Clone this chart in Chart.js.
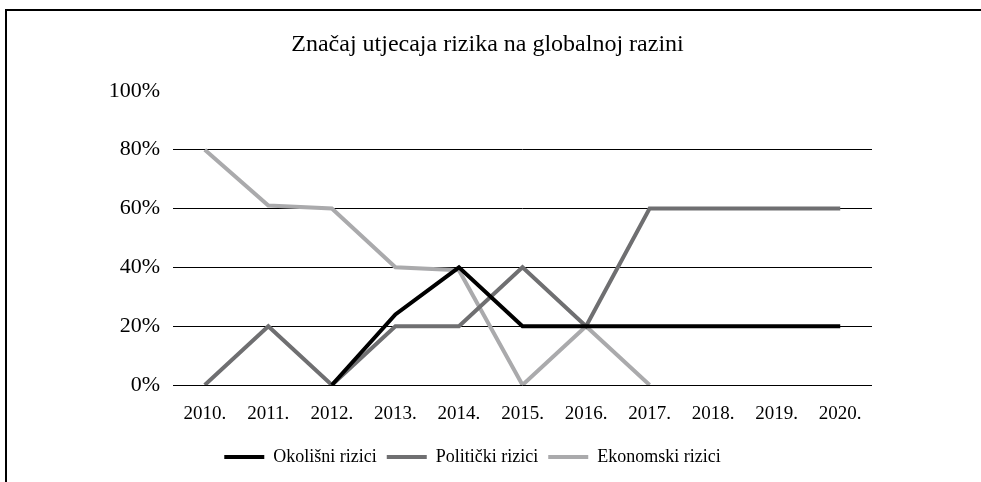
<!DOCTYPE html>
<html>
<head>
<meta charset="utf-8">
<script src="https://cdn.jsdelivr.net/npm/chart.js@4"></script>
<style>
  html, body { margin: 0; padding: 0; background: #fff; }
  #frame {
    position: absolute; left: 5px; top: 9px; right: 0; bottom: 0;
    border-left: 2px solid #000; border-top: 2px solid #000;
  }
  #wrap { position: relative; width: 974px; height: 471px; }
</style>
</head>
<body>
<div id="frame"><div id="wrap"><canvas id="riskChart"></canvas></div></div>
<script>
// podaci procitani s grafikona (u postocima)
const years = ['2010.', '2011.', '2012.', '2013.', '2014.', '2015.', '2016.', '2017.', '2018.', '2019.', '2020.'];
const okolisni = [null, null, 0, 24, 40, 20, 20, 20, 20, 20, 20];
const politicki = [0, 20, 0, 20, 20, 40, 20, 60, 60, 60, 60];
const ekonomski = [80, 61, 60, 40, 39, 0, 20, 0, null, null, null];
const yTicks = [0, 20, 40, 60, 80, 100];

const serif = 'Liberation Serif';

// pomak legende ulijevo kao na originalu
const shiftLegend = {
  id: 'shiftLegend',
  afterLayout(chart) {
    const l = chart.legend;
    if (l) { l.left -= 15; l.right -= 15; }
  }
};

new Chart(document.getElementById('riskChart').getContext('2d'), {
  type: 'line',
  data: {
    labels: years,
    datasets: [
      { label: 'Okolišni rizici', data: okolisni, borderColor: '#000000', backgroundColor: '#000000' },
      { label: 'Politički rizici', data: politicki, borderColor: '#6f6f71', backgroundColor: '#6f6f71' },
      { label: 'Ekonomski rizici', data: ekonomski, borderColor: '#aaaaac', backgroundColor: '#aaaaac' }
    ]
  },
  options: {
    responsive: true,
    maintainAspectRatio: false,
    animation: false,
    layout: { padding: { left: 0, right: 13, top: 0, bottom: 6 } },
    elements: {
      line: { borderWidth: 4, tension: 0, borderCapStyle: 'butt', borderJoinStyle: 'miter' },
      point: { radius: 0, hoverRadius: 0 }
    },
    plugins: {
      title: {
        display: true,
        text: 'Značaj utjecaja rizika na globalnoj razini',
        color: '#000',
        font: { family: serif, size: 24, weight: 'normal' },
        padding: { top: 19, bottom: 32 }
      },
      legend: {
        position: 'bottom',
        labels: {
          color: '#000',
          font: { family: serif, size: 18 },
          boxWidth: 40,
          boxHeight: 4,
          padding: 10,
          generateLabels: function(chart) {
            const items = Chart.defaults.plugins.legend.labels.generateLabels(chart);
            items.forEach(it => { it.lineWidth = 0; it.fillStyle = it.strokeStyle; });
            return items;
          }
        }
      },
      tooltip: { enabled: false }
    },
    scales: {
      x: {
        offset: true,
        grid: { display: false },
        border: { display: false },
        ticks: { color: '#000', font: { family: serif, size: 19 }, padding: 10, maxRotation: 0 },
        afterFit: function(scale) { scale.height = 53; }
      },
      y: {
        min: 0,
        max: 100,
        afterBuildTicks: function(scale) { scale.ticks = yTicks.map(v => ({ value: v })); },
        grid: {
          drawTicks: false,
          color: function(ctx) { return ctx.tick && ctx.tick.value === 100 ? 'rgba(0,0,0,0)' : '#000'; },
          lineWidth: 1
        },
        border: { display: false },
        ticks: {
          color: '#000',
          font: { family: serif, size: 22 },
          padding: 13,
          callback: function(v) { return v + '%'; }
        },
        afterFit: function(scale) { scale.width = 166; }
      },
      yRight: {
        position: 'right',
        min: 0,
        max: 100,
        grid: { display: false },
        border: { display: false },
        ticks: { display: false },
        afterFit: function(scale) { scale.width = 96; }
      }
    }
  },
  plugins: [shiftLegend]
});
</script>
</body>
</html>
